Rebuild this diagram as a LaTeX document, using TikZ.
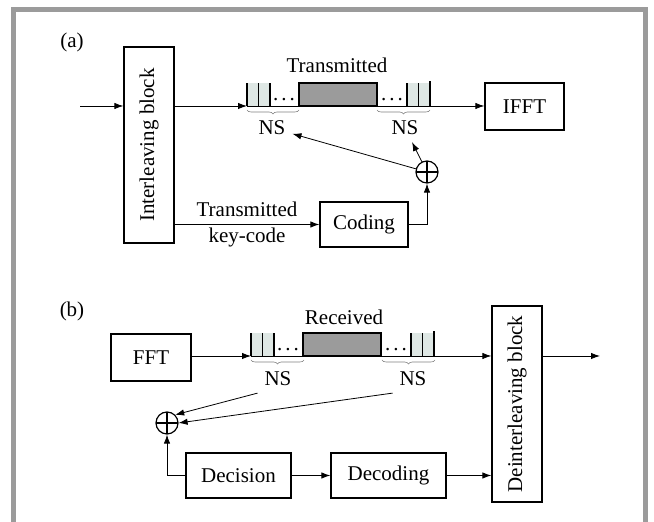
\documentclass[tikz,border=0pt]{standalone}
\usepackage{fontspec}
\setmainfont{Liberation Serif}
\usetikzlibrary{arrows.meta,decorations.pathreplacing}
\definecolor{framegray}{RGB}{155,155,155}
\definecolor{slotfill}{RGB}{222,231,228}
\definecolor{datafill}{RGB}{155,155,155}

\begin{document}
\begin{tikzpicture}[x=0.5pt,y=-0.5pt,>={Latex[length=4.5pt,width=3.2pt]},
  every node/.style={font=\fontsize{10.5pt}{12.6pt}\selectfont},
  block/.style={draw,line width=0.6pt,inner sep=0pt,minimum height=22.5pt},
  tall/.style={draw,line width=0.6pt,inner sep=0pt,minimum width=25pt,minimum height=98pt},
  sum/.style={draw,circle,line width=0.6pt,minimum size=11pt,inner sep=0pt,
    path picture={\draw[line width=0.6pt] (path picture bounding box.north) -- (path picture bounding box.south)
      (path picture bounding box.west) -- (path picture bounding box.east);}},
  nbrace/.style={decorate,decoration={brace,mirror,amplitude=2pt},gray,line width=0.3pt}]
\useasboundingbox (0,0) rectangle (654,522);
\draw[framegray,line width=2.5pt] (13,522) -- (13,9.5) -- (645.5,9.5) -- (645.5,522);

% slots of both frames
\foreach \ox/\oy in {247/106,251/356} {
  \fill[slotfill] (\ox,\oy) rectangle +(23,-23);
  \fill[slotfill] (\ox+160,\oy) rectangle +(23,-23);
  \draw[line width=0.7pt] (\ox,\oy) -- +(0,-23) (\ox+11.5,\oy) -- +(0,-23) (\ox+23,\oy) -- +(0,-23);
  \draw[line width=0.7pt] (\ox+160,\oy) -- +(0,-23) (\ox+171.5,\oy) -- +(0,-23) (\ox+183,\oy) -- +(0,-25);
  \draw[fill=datafill,line width=0.6pt] (\ox+52,\oy) rectangle +(78,-23);
  \node at (\ox+37,\oy-6) {.\kern1.5pt.\kern1.5pt.};
  \node at (\ox+145,\oy-6) {.\kern1.5pt.\kern1.5pt.};
}

% (a)
\node (la) at (72,42) {(a)};
\node[tall] (ileave) at (149,145) {\rotatebox{90}{Interleaving block}};
\node[block,minimum width=44pt] (coding) at (364,224.5) {Coding};
\node[block,minimum width=39.5pt,minimum height=23.5pt] (ifft) at (524.5,106.5) {IFFT};
\node[sum] (opa) at (427,172) {};
\node (txa) at (337,65) {Transmitted};
\node (nsal) at (272,128) {NS};
\node (nsar) at (405,128) {NS};
\coordinate (ina) at (80,106);
\coordinate (sa) at (247,106);

\draw[nbrace] (247,110) -- (299,110);
\draw[nbrace] (377,110) -- (430,110);

\path[draw,->] (ina) -- (ina -| ileave.west);
\path[draw,->] (ileave.east |- sa) -- (sa);
\path[draw,->] (sa) -- (sa -| ifft.west);
\path[draw,->] (ileave.east |- coding) -- node[align=center] {Transmitted\\key-code} (coding.west);
\path[draw,->] (coding) -| (opa);
\path[draw,->] (opa) -- (nsal);
\path[draw,->] (opa) -- (nsar);

% (b)
\node (lb) at (72,311) {(b)};
\node[block,minimum width=40pt,minimum height=23.5pt] (fft) at (151,357.5) {FFT};
\node[tall] (deint) at (517,404) {\rotatebox{90}{Deinterleaving block}};
\node[block,minimum width=52.5pt] (decision) at (238.5,475.5) {Decision};
\node[block,minimum width=57.5pt] (decoding) at (388.5,475.5) {Decoding};
\node[sum] (opb) at (167,423) {};
\node (rxb) at (344,317) {Received};
\node (nsbl) at (278,379) {NS};
\node (nsbr) at (413,379) {NS};
\coordinate (sb) at (251,356);
\coordinate (outb) at (600,356);

\draw[nbrace] (251,360) -- (304,360);
\draw[nbrace] (382,360) -- (435,360);

\path[draw,->] (fft.east |- sb) -- (sb);
\path[draw,->] (sb) -- (sb -| deint.west);
\path[draw,->] (deint.east |- sb) -- (outb);
\path[draw,->] (nsbl.south west) -- (opb.north east);
\path[draw,->] (nsbr.south west) -- (opb.east);
\path[draw,->] (decision.west) -| (opb.south);
\path[draw,->] (decision) -- (decoding);
\path[draw,->] (decoding) -- (decoding -| deint.west);
\end{tikzpicture}
\end{document}
